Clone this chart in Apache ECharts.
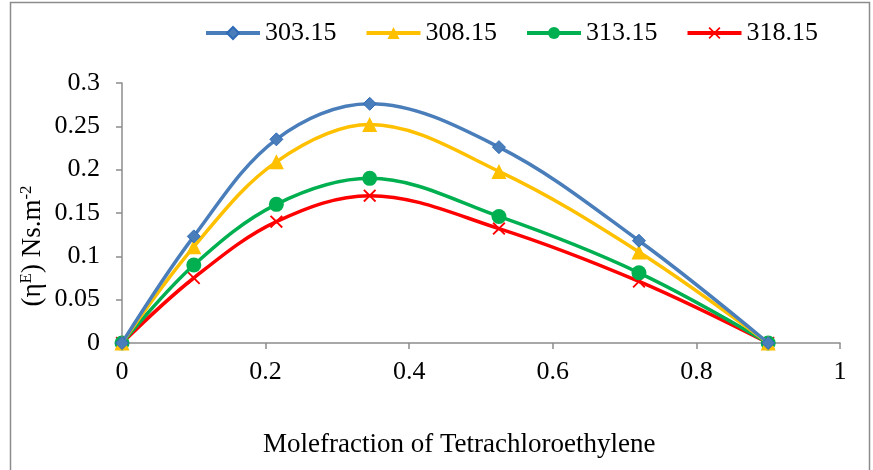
<!DOCTYPE html>
<html>
<head>
<meta charset="utf-8">
<script src="https://cdn.jsdelivr.net/npm/echarts@6/dist/echarts.min.js"></script>
<style>
  html, body { margin: 0; padding: 0; background: #fff; }
  #chart { width: 873px; height: 470px; }
</style>
</head>
<body>
<div id="chart"></div>
<script>
// mole fraction of tetrachloroethylene
const moleFraction = [0, 0.1, 0.215, 0.345, 0.525, 0.72, 0.9];
const seriesNames = ['303.15', '308.15', '313.15', '318.15'];
const eta303 = [0, 0.123, 0.235, 0.276, 0.226, 0.118, 0];
const eta308 = [0, 0.111, 0.209, 0.252, 0.198, 0.105, 0];
const eta313 = [0, 0.090, 0.160, 0.190, 0.146, 0.081, 0];
const eta318 = [0, 0.075, 0.140, 0.170, 0.132, 0.071, 0];
const xTicks = [0, 0.2, 0.4, 0.6, 0.8, 1];
const yTicks = [0, 0.05, 0.1, 0.15, 0.2, 0.25, 0.3];

const FONT = 'Liberation Serif';
const crossPath = 'path://M0,1L1,0L5,4L9,0L10,1L6,5L10,9L9,10L5,6L1,10L0,9L4,5Z';

const colors = ['#4a7ebb', '#ffc000', '#00b050', '#ff0000'];
const symbols = ['diamond', 'triangle', 'circle', crossPath];
const symbolSizes = [13, 15, 15, 13];
const values = [eta303, eta308, eta313, eta318];

const chart = echarts.init(document.getElementById('chart'));

const series = seriesNames.map((name, i) => ({
  name: name,
  type: 'line',
  smooth: 0.35,
  data: moleFraction.map((x, k) => [x, values[i][k]]),
  symbol: symbols[i],
  symbolSize: symbolSizes[i],
  showAllSymbol: true,
  lineStyle: { color: colors[i], width: 3.5 },
  itemStyle: { color: colors[i], borderColor: i === 0 ? '#2e6ab5' : colors[i], borderWidth: i === 0 ? 1 : 0 },
  z: 10 - i
}));

const tickFmt = list => v => {
  const t = list.find(t => Math.abs(t - v) < 1e-9);
  return t === undefined ? '' : String(t);
};

chart.setOption({
  animation: false,
  textStyle: { fontFamily: FONT },
  grid: { left: 122, right: 33, top: 83, bottom: 127 },
  legend: {
    top: 20,
    left: 204,
    padding: 0,
    itemWidth: 54,
    itemHeight: 15,
    itemGap: 28,
    lineStyle: { width: 4 },
    textStyle: { fontFamily: FONT, fontSize: 26, color: '#000' },
    data: seriesNames
  },
  xAxis: {
    type: 'value',
    min: 0,
    max: 1,
    interval: 0.2,
    splitLine: { show: false },
    axisLine: { lineStyle: { color: '#8c8c8c', width: 1.5 } },
    axisTick: { show: true, length: 6, lineStyle: { color: '#8c8c8c', width: 1.5 } },
    axisLabel: { fontFamily: FONT, fontSize: 26, color: '#000', margin: 16, formatter: tickFmt(xTicks) }
  },
  yAxis: {
    type: 'value',
    min: 0,
    max: 0.3,
    interval: 0.05,
    splitLine: { show: false },
    axisLine: { show: true, lineStyle: { color: '#8c8c8c', width: 1.5 } },
    axisTick: { show: true, length: 6, lineStyle: { color: '#8c8c8c', width: 1.5 } },
    axisLabel: { fontFamily: FONT, fontSize: 26, color: '#000', margin: 22, formatter: tickFmt(yTicks) }
  },
  graphic: [
    {
      type: 'rect',
      shape: { x: 10.5, y: 2.5, width: 859, height: 500 },
      style: { fill: 'none', stroke: '#8c8c8c', lineWidth: 1.5 },
      silent: true
    },
    {
      type: 'text',
      left: 263,
      top: 431,
      style: { text: 'Molefraction of Tetrachloroethylene', font: '27px "Liberation Serif"', fill: '#000' }
    },
    {
      type: 'text',
      x: 33,
      y: 246,
      rotation: Math.PI / 2,
      style: {
        text: '(η{sup|E}) Ns.m{sup|-2}',
        fill: '#000',
        font: '27px "Liberation Serif"',
        align: 'center',
        verticalAlign: 'middle',
        rich: {
          sup: { fontSize: 17, fontFamily: FONT, verticalAlign: 'top', padding: [0, 0, 12, 0], fill: '#000' }
        }
      }
    }
  ],
  series: series
});
</script>
</body>
</html>
